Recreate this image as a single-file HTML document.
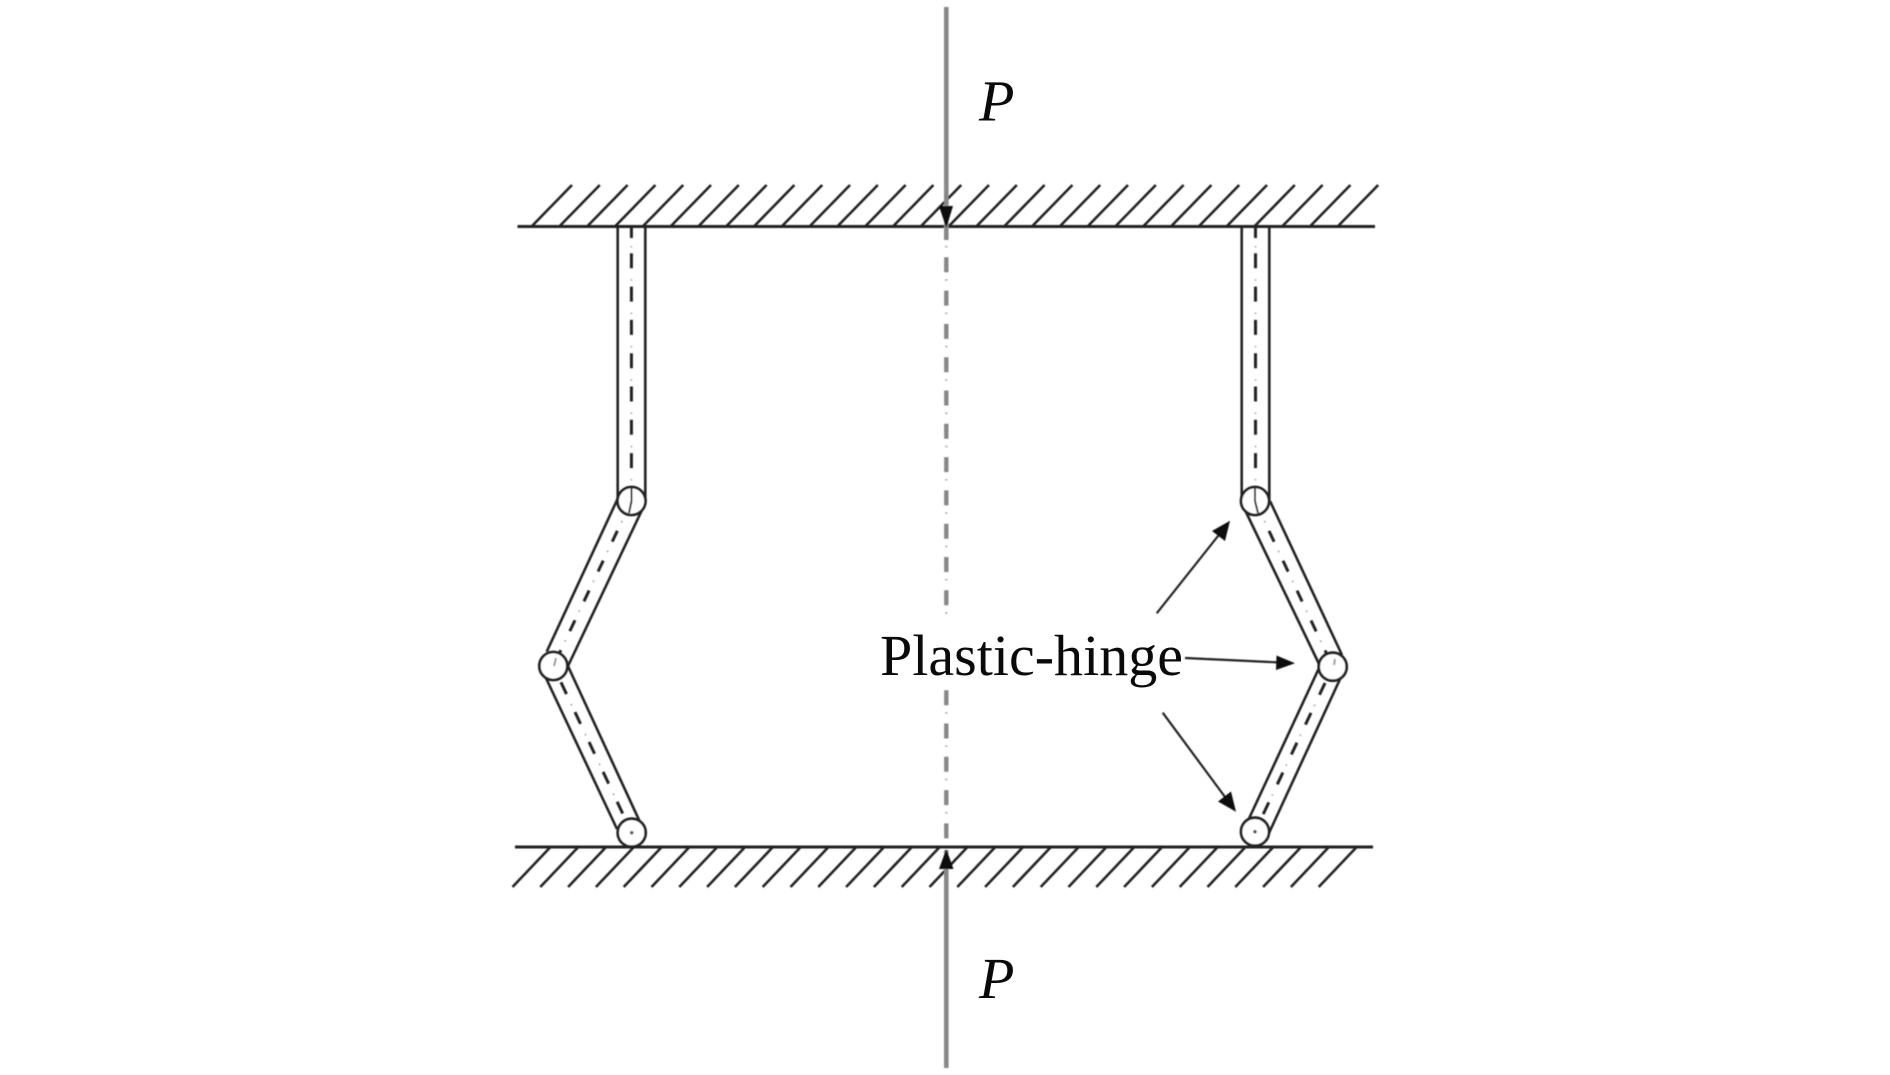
<!DOCTYPE html>
<html>
<head>
<meta charset="utf-8">
<style>
html,body{margin:0;padding:0;background:#fff;width:1890px;height:1075px;overflow:hidden}
svg{display:block}
text{font-family:"Liberation Serif",serif;fill:#0a0a0a}
</style>
</head>
<body>
<svg width="1890" height="1075" viewBox="0 0 1890 1075" xmlns="http://www.w3.org/2000/svg">
<defs><filter id="b" x="-5%" y="-5%" width="110%" height="110%"><feGaussianBlur stdDeviation="0.4"/></filter></defs>
<rect width="1890" height="1075" fill="#fff"/>
<g filter="url(#b)">
  <!-- hatches -->
  <path fill="none" stroke="#222" stroke-width="2.6" d="M532 226l40-41m-12.2 41l40-41m-12.2 41l40-41m-12.2 41l40-41m-12.2 41l40-41m-12.2 41l40-41m-12.2 41l40-41m-12.2 41l40-41m-12.2 41l40-41m-12.2 41l40-41m-12.2 41l40-41m-12.2 41l40-41m-12.2 41l40-41m-12.2 41l40-41m-12.2 41l40-41m-12.2 41l40-41m-12.2 41l40-41m-12.2 41l40-41m-12.2 41l40-41m-12.2 41l40-41m-12.2 41l40-41m-12.2 41l40-41m-12.2 41l40-41m-12.2 41l40-41m-12.2 41l40-41m-12.2 41l40-41m-12.2 41l40-41m-12.2 41l40-41m-12.2 41l40-41m-12.2 41l40-41"/>
  <path fill="none" stroke="#222" stroke-width="2.6" d="M550.5 847l-38 40m65.8-40l-38 40m65.8-40l-38 40m65.8-40l-38 40m65.8-40l-38 40m65.8-40l-38 40m65.8-40l-38 40m65.8-40l-38 40m65.8-40l-38 40m65.8-40l-38 40m65.8-40l-38 40m65.8-40l-38 40m65.8-40l-38 40m65.8-40l-38 40m65.8-40l-38 40m65.8-40l-38 40m65.8-40l-38 40m65.8-40l-38 40m65.8-40l-38 40m65.8-40l-38 40m65.8-40l-38 40m65.8-40l-38 40m65.8-40l-38 40m65.8-40l-38 40m65.8-40l-38 40m65.8-40l-38 40m65.8-40l-38 40m65.8-40l-38 40m65.8-40l-38 40m65.8-40l-38 40"/>
  <!-- ground lines -->
  <line x1="517.5" y1="226.5" x2="1375" y2="226.5" stroke="#222" stroke-width="3"/>
  <line x1="515" y1="847" x2="1373" y2="847" stroke="#222" stroke-width="3"/>

  <!-- axis -->
  <line x1="946.3" y1="7" x2="946.3" y2="240" stroke="#888" stroke-width="4.6"/>
  <line x1="946.3" y1="257.3" x2="946.3" y2="840" stroke="#888" stroke-width="4.4" stroke-dasharray="15 18.3"/>
  <line x1="946.3" y1="246" x2="946.3" y2="840" stroke="#aaa" stroke-width="2.5" stroke-dasharray="1.4 31.9"/>
  <line x1="946.3" y1="850" x2="946.3" y2="1068" stroke="#888" stroke-width="4.6"/>
  <polygon points="939,206 953,206 946.3,228" fill="#0a0a0a"/>
  <polygon points="946.3,849 953.5,869 939,869" fill="#0a0a0a"/>

  <g fill="none" stroke="#222" stroke-width="2.6">
    <!-- left column -->
    <line x1="617.7" y1="226" x2="617.7" y2="500"/>
    <line x1="645.3" y1="226" x2="645.3" y2="500"/>
    <line x1="618" y1="498" x2="546.7" y2="651.7"/>
    <line x1="642" y1="510" x2="568" y2="666"/>
    <line x1="545" y1="676" x2="617" y2="829"/>
    <line x1="567" y1="664" x2="640" y2="822"/>
    <!-- right column -->
    <line x1="1245" y1="510" x2="1320" y2="666"/>
    <line x1="1270" y1="501" x2="1342" y2="655"/>
    <line x1="1320" y1="666" x2="1246" y2="825"/>
    <line x1="1341" y1="677" x2="1269" y2="833"/>
    <line x1="1241.7" y1="226" x2="1241.7" y2="500"/>
    <line x1="1269.3" y1="226" x2="1269.3" y2="500"/>
  </g>
  <g fill="none" stroke="#222" stroke-width="3">
    <!-- center dashes -->
    <line x1="631.4" y1="226" x2="631.4" y2="238"/>
    <line x1="631.4" y1="253.3" x2="631.4" y2="480" stroke-dasharray="15 18.3"/>
    <line x1="1255.5" y1="226" x2="1255.5" y2="238"/>
    <line x1="1255.5" y1="253.3" x2="1255.5" y2="480" stroke-dasharray="15 18.3"/>
    <line x1="631.5" y1="501" x2="553.3" y2="666" stroke-dasharray="12 21" stroke-dashoffset="0"/>
    <line x1="553.3" y1="666" x2="631.7" y2="832.7" stroke-dasharray="13 20" stroke-dashoffset="-18"/>
    <line x1="1255" y1="501" x2="1332.7" y2="666.7" stroke-dasharray="12 21" stroke-dashoffset="0"/>
    <line x1="1332.7" y1="666.7" x2="1255" y2="831.7" stroke-dasharray="13 20" stroke-dashoffset="-18"/>
  </g>
  <g fill="none" stroke="#999" stroke-width="1.5">
    <line x1="631.4" y1="246" x2="631.4" y2="490" stroke-dasharray="1.4 31.9"/>
    <line x1="1255.5" y1="246" x2="1255.5" y2="490" stroke-dasharray="1.4 31.9"/>
    <line x1="631.5" y1="501" x2="553.3" y2="666" stroke-dasharray="1.6 31.4" stroke-dashoffset="-22"/>
    <line x1="553.3" y1="666" x2="631.7" y2="832.7" stroke-dasharray="1.6 31.4" stroke-dashoffset="-9"/>
    <line x1="1255" y1="501" x2="1332.7" y2="666.7" stroke-dasharray="1.6 31.4" stroke-dashoffset="-22"/>
    <line x1="1332.7" y1="666.7" x2="1255" y2="831.7" stroke-dasharray="1.6 31.4" stroke-dashoffset="-9"/>
  </g>

  <!-- hinges -->
  <g fill="#fff" stroke="#222" stroke-width="2.8">
    <circle cx="631.5" cy="501" r="14"/>
    <circle cx="553.3" cy="666" r="14"/>
    <circle cx="631.7" cy="832.7" r="14"/>
    <circle cx="1255" cy="501" r="14"/>
    <circle cx="1332.7" cy="666.7" r="14"/>
    <circle cx="1255" cy="831.7" r="14"/>
  </g>
  <g fill="none" stroke="#333" stroke-width="2">
    <path d="M631.5 488v13l-2.5 12"/>
    <path d="M1255 488v13l3 12"/>
    <path d="M556 658l-2 8" stroke="#999"/>
    <path d="M1335 659l-1 6" stroke="#999"/>
    <circle cx="631.7" cy="832.7" r="0.7"/>
    <circle cx="1255" cy="831.7" r="0.7"/>
  </g>

  <!-- label background -->
  <rect x="880" y="616" width="303" height="70" fill="#fff"/>

  <!-- arrows -->
  <g stroke="#222" stroke-width="2.2" fill="none">
    <line x1="1156.7" y1="613.3" x2="1222" y2="531"/>
    <line x1="1185" y1="658" x2="1280" y2="662.5"/>
    <line x1="1162.7" y1="712.7" x2="1228" y2="801"/>
  </g>
  <polygon points="1230,520.7 1225,541 1212,531" fill="#0a0a0a"/>
  <polygon points="1295,663.3 1276,670 1276.5,655.5" fill="#0a0a0a"/>
  <polygon points="1236,811.7 1218,801.5 1231,791.5" fill="#0a0a0a"/>
</g>

<text x="880" y="675" font-size="58" textLength="303" lengthAdjust="spacingAndGlyphs">Plastic-hinge</text>
<text x="979" y="120.5" font-size="58" font-style="italic">P</text>
<text x="979" y="998" font-size="58" font-style="italic">P</text>
</svg>
</body>
</html>
